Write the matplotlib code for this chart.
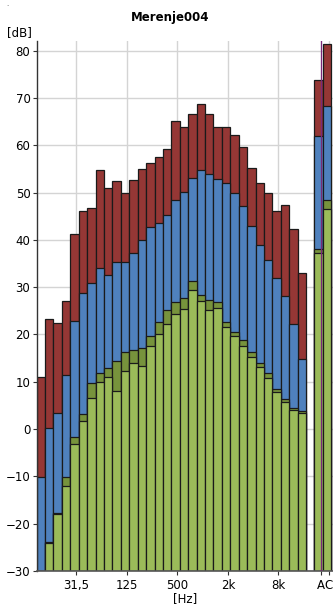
import numpy as np
import matplotlib.pyplot as plt

# third-octave bands 12,5 Hz .. 16 kHz
bands = ['12,5', '16', '20', '25', '31,5', '40', '50', '63', '80', '100',
         '125', '160', '200', '250', '315', '400', '500', '630', '800', '1k',
         '1,25k', '1,6k', '2k', '2,5k', '3,15k', '4k', '5k', '6,3k', '8k',
         '10k', '12,5k', '16k']
red = [11.1, 23.2, 22.4, 27.0, 41.2, 46.0, 46.7, 54.7, 51.0, 52.5,
       49.9, 52.7, 54.9, 56.3, 57.5, 59.2, 65.1, 63.8, 66.6, 68.7,
       66.6, 63.8, 63.9, 62.1, 59.7, 55.2, 52.0, 49.9, 46.0, 47.4,
       42.2, 32.9]
blue = [-10.2, 0.3, 3.3, 11.4, 22.9, 28.7, 30.8, 34.1, 32.5, 35.3,
        35.3, 37.2, 40.0, 42.8, 43.6, 45.3, 48.4, 50.1, 53.0, 54.8,
        53.9, 52.8, 52.0, 49.8, 47.2, 42.9, 38.9, 35.8, 31.9, 28.1,
        22.2, 14.8]
dkgreen = [-31, -23.8, -17.7, -10.1, -1.6, 3.1, 9.7, 11.8, 12.9, 14.3,
           16.2, 16.7, 17.2, 19.7, 22.7, 25.1, 26.8, 27.8, 31.4, 28.4,
           27.3, 26.8, 22.7, 20.5, 18.8, 16.2, 13.9, 11.8, 8.4, 6.3,
           4.5, 3.8]
ltgreen = [-31, -24.0, -17.9, -12.0, -3.2, 1.7, 6.5, 9.9, 11.1, 8.1,
           12.3, 14.0, 13.4, 17.6, 20.2, 22.2, 24.3, 25.3, 29.3, 27.1,
           25.2, 25.5, 21.5, 19.7, 17.6, 15.3, 13.1, 10.9, 7.8, 5.8,
           4.0, 3.3]

ac_labels = ['A', 'C']
ac_red = [73.8, 81.4]
ac_blue = [61.9, 68.3]
ac_dkgreen = [38.1, 48.5]
ac_ltgreen = [37.2, 46.6]

tick_bands = ['31,5', '125', '500', '2k', '8k']

c_red = '#953735'
c_blue = '#4f81bd'
c_dk = '#77933c'
c_lt = '#9bbb59'
base = -30

x = np.arange(len(bands))
xac = np.array([len(bands) + 1, len(bands) + 2])

fig = plt.figure(figsize=(3.33, 6.07), dpi=100)
ax = fig.add_axes([0.110, 0.0593, 0.890, 0.8737])

for xs, vals in [(x, [red, blue, dkgreen, ltgreen]),
                 (xac, [ac_red, ac_blue, ac_dkgreen, ac_ltgreen])]:
    for v, c in zip(vals, [c_red, c_blue, c_dk, c_lt]):
        v = np.array(v)
        ax.bar(xs, v - base, bottom=base, width=1.0, color=c,
               edgecolor='#1a1a1a', linewidth=0.9, zorder=2)

ax.set_xlim(-0.5, 34.7)
ax.set_ylim(-30, 82.1)
ax.set_yticks(np.arange(-30, 81, 10))

tpos = [bands.index(b) + 0.22 for b in tick_bands] + list(xac + 0.22)
ax.set_xticks(tpos)
ax.set_xticklabels(tick_bands + ac_labels)

ax.set_axisbelow(True)
ax.grid(True, color='#d4d4d4', linewidth=1.0)
ax.axvline(xac[0] + 0.22, color='#7a2a7a', linewidth=0.9, zorder=5)

for s in ['top', 'right']:
    ax.spines[s].set_visible(False)
ax.spines['left'].set_color('#333333')
ax.spines['bottom'].set_color('#555555')
ax.spines['left'].set_linewidth(1.0)
ax.spines['bottom'].set_linewidth(1.2)
ax.tick_params(axis='both', labelsize=8.5, length=3, pad=1.5, color='#333333')
ax.tick_params(axis='x', pad=3)

ax.set_xlabel('[Hz]', fontsize=8.5, labelpad=0)
fig.text(170 / 333, 1 - 17 / 607, 'Merenje004', ha='center', va='center',
         fontsize=8.5, fontweight='bold')
fig.text(0.02, 1 - 33 / 607, '[dB]', ha='left', va='center', fontsize=8.5)
fig.text(0.018, 0.99, '.', fontsize=5, color='#555555')

fig.savefig('out.png', dpi=100)
